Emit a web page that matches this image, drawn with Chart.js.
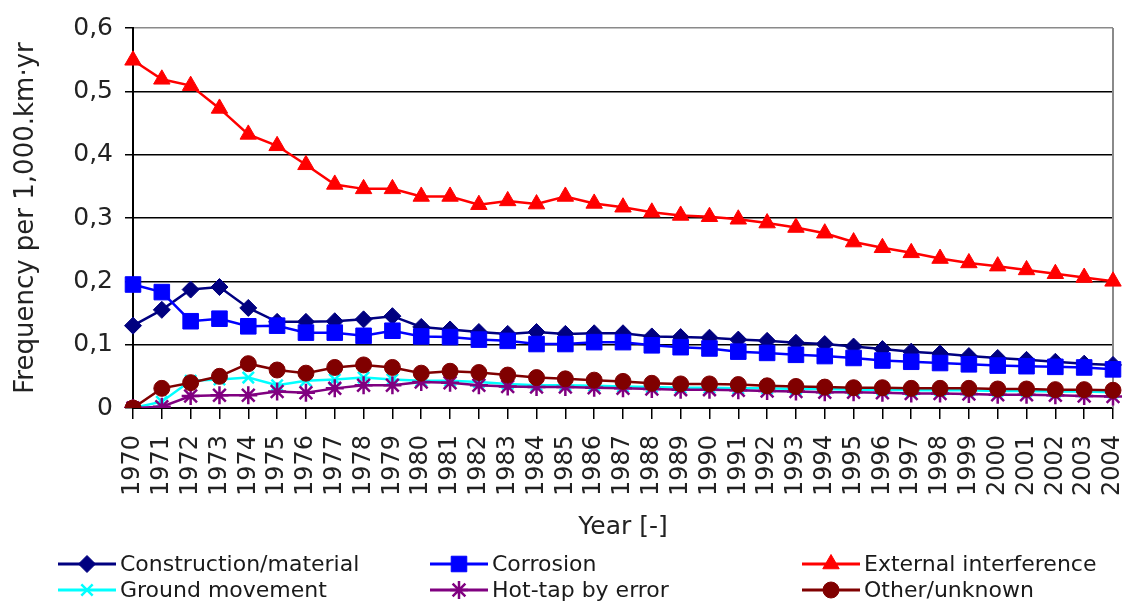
<!DOCTYPE html>
<html lang="en">
<head>
  <meta charset="UTF-8">
  <title>Incident frequency by cause</title>
  <script src="https://cdn.jsdelivr.net/npm/chart.js"></script>
  <style>
    body { margin: 0; background: #fff; }
    #wrap { width: 1132px; height: 604px; }
  </style>
</head>
<body>

<div id="wrap"><canvas id="freqChart" width="1132" height="604"></canvas></div>

<script>
  // categories
  const years = ['1970','1971','1972','1973','1974','1975','1976','1977','1978','1979',
                 '1980','1981','1982','1983','1984','1985','1986','1987','1988','1989',
                 '1990','1991','1992','1993','1994','1995','1996','1997','1998','1999',
                 '2000','2001','2002','2003','2004'];

  // values (frequency per 1,000 km·yr)
  const constructionMaterial = [0.130, 0.155, 0.187, 0.191, 0.158, 0.136, 0.136, 0.137, 0.140, 0.145,
                                0.128, 0.124, 0.120, 0.117, 0.120, 0.117, 0.118, 0.118, 0.113, 0.112,
                                0.111, 0.108, 0.106, 0.103, 0.101, 0.097, 0.093, 0.089, 0.086, 0.082,
                                0.079, 0.076, 0.073, 0.070, 0.068];
  const corrosion = [0.195, 0.183, 0.137, 0.141, 0.129, 0.130, 0.119, 0.119, 0.114, 0.122,
                     0.113, 0.112, 0.108, 0.106, 0.101, 0.101, 0.104, 0.104, 0.099, 0.096,
                     0.094, 0.089, 0.087, 0.084, 0.082, 0.079, 0.075, 0.073, 0.071, 0.069,
                     0.067, 0.066, 0.065, 0.064, 0.061];
  const externalInterference = [0.549, 0.519, 0.509, 0.473, 0.432, 0.414, 0.384, 0.353, 0.346, 0.346,
                                0.334, 0.334, 0.321, 0.327, 0.322, 0.334, 0.323, 0.317, 0.309, 0.304,
                                0.302, 0.298, 0.292, 0.285, 0.276, 0.262, 0.253, 0.245, 0.236, 0.229,
                                0.224, 0.218, 0.212, 0.206, 0.200];
  const groundMovement = [0, 0.010, 0.043, 0.045, 0.048, 0.036, 0.043, 0.045, 0.048, 0.045,
                          0.043, 0.043, 0.041, 0.038, 0.036, 0.036, 0.035, 0.034, 0.033, 0.032,
                          0.032, 0.031, 0.031, 0.030, 0.030, 0.029, 0.029, 0.028, 0.028, 0.028,
                          0.027, 0.027, 0.026, 0.026, 0.025];
  const hotTapByError = [0, 0.002, 0.019, 0.020, 0.020, 0.026, 0.024, 0.031, 0.036, 0.036,
                         0.041, 0.040, 0.036, 0.034, 0.033, 0.033, 0.032, 0.031, 0.030, 0.029,
                         0.029, 0.028, 0.027, 0.026, 0.025, 0.025, 0.024, 0.023, 0.023, 0.022,
                         0.021, 0.021, 0.020, 0.019, 0.018];
  const otherUnknown = [0, 0.031, 0.040, 0.050, 0.070, 0.060, 0.055, 0.064, 0.068, 0.064,
                        0.055, 0.058, 0.056, 0.052, 0.048, 0.046, 0.044, 0.042, 0.039, 0.038,
                        0.038, 0.037, 0.035, 0.034, 0.033, 0.032, 0.032, 0.031, 0.031, 0.031,
                        0.030, 0.030, 0.029, 0.029, 0.028];

  const FONT = 'DejaVu Sans';

  // one line series, Excel-like marker
  function series(label, data, color, style, radius, order) {
    return {
      label: label,
      data: data,
      borderColor: color,
      backgroundColor: color,
      borderWidth: 2.5,
      pointStyle: style,
      pointRadius: radius,
      pointHoverRadius: radius,
      pointBackgroundColor: color,
      pointBorderColor: color,
      pointBorderWidth: (style === 'crossRot' || style === 'star') ? 2.5 : 1,
      tension: 0,
      fill: false,
      order: order   // later series drawn on top, like the original
    };
  }

  // gray frame on the right side of the plot area
  const plotFrame = {
    id: 'plotFrame',
    beforeDatasetsDraw(chart) {
      const a = chart.chartArea, ctx = chart.ctx;
      ctx.save();
      ctx.strokeStyle = '#8a8a8a';
      ctx.lineWidth = 2;
      ctx.beginPath();
      ctx.moveTo(a.right, a.top);
      ctx.lineTo(a.right, a.bottom);
      ctx.stroke();
      ctx.restore();
    }
  };

  // legend in three fixed columns, two rows
  const columnLegend = {
    id: 'columnLegend',
    afterDraw(chart, args, opts) {
      const ctx = chart.ctx;
      chart.data.datasets.forEach((ds, i) => {
        const tx = opts.cols[i % 3];
        const y = opts.rows[Math.floor(i / 3)];
        ctx.save();
        ctx.strokeStyle = ds.borderColor;
        ctx.lineWidth = 3;
        ctx.beginPath();
        ctx.moveTo(tx - 62, y);
        ctx.lineTo(tx - 4, y);
        ctx.stroke();
        ctx.fillStyle = ds.pointBackgroundColor;
        ctx.strokeStyle = ds.pointBorderColor;
        ctx.lineWidth = ds.pointBorderWidth;
        Chart.helpers.drawPoint(ctx, {
          pointStyle: ds.pointStyle, radius: ds.pointRadius,
          borderWidth: ds.pointBorderWidth, rotation: 0
        }, tx - 33, y);
        ctx.fillStyle = '#1a1a1a';
        ctx.font = '22px "' + FONT + '"';
        ctx.textAlign = 'left';
        ctx.textBaseline = 'middle';
        ctx.fillText(ds.label, tx, y + 1);
        ctx.restore();
      });
    }
  };

  const ctx = document.getElementById('freqChart').getContext('2d');
  new Chart(ctx, {
    type: 'line',
    data: {
      labels: years,
      datasets: [
        series('Construction/material', constructionMaterial, '#000080', 'rectRot', 8.5, 6),
        series('Corrosion', corrosion, '#0000ff', 'rect', 11, 5),
        series('External interference', externalInterference, '#ff0000', 'triangle', 9.5, 4),
        series('Ground movement', groundMovement, '#00ffff', 'crossRot', 8, 3),
        series('Hot-tap by error', hotTapByError, '#800080', 'star', 9, 2),
        series('Other/unknown', otherUnknown, '#800000', 'circle', 8, 1)
      ]
    },
    options: {
      responsive: false,
      animation: false,
      devicePixelRatio: 1,
      layout: { padding: { left: 0, right: 19, top: 28, bottom: 62 } },
      plugins: {
        legend: { display: false },
        tooltip: { enabled: false },
        columnLegend: { cols: [120, 492, 864], rows: [564, 590] }
      },
      scales: {
        x: {
          type: 'category',
          offset: false,
          grid: { drawOnChartArea: false, drawTicks: true, tickLength: 11, color: '#000', lineWidth: 1.5 },
          border: { color: '#000', width: 2 },
          ticks: {
            autoSkip: false, maxRotation: 90, minRotation: 90, padding: 16,
            color: '#222', font: { family: FONT, size: 24 }
          },
          title: {
            display: true, text: 'Year [-]', color: '#222',
            font: { family: FONT, size: 25 }, padding: { top: 0, bottom: 0 }
          },
          afterFit(scale) {
            scale.height = 134;
            scale.paddingLeft = 0;
            scale.paddingRight = 0;
          }
        },
        y: {
          min: 0,
          max: 0.6,
          grid: {
            color: c => (c.tick && c.tick.value >= 0.599) ? '#8a8a8a' : '#000',
            tickColor: '#000',
            lineWidth: 1.5,
            tickLength: 8
          },
          border: { color: '#000', width: 2 },
          ticks: {
            stepSize: 0.1, padding: 12, color: '#222',
            font: { family: FONT, size: 25 },
            callback: v => v === 0 ? '0' : v.toFixed(1).replace('.', ',')
          },
          title: {
            display: true, text: 'Frequency per 1,000.km·yr', color: '#222',
            font: { family: FONT, size: 26 }, padding: { top: 11, bottom: 0 }
          },
          afterFit(scale) {
            scale.width = 133;
            scale.paddingTop = 0;
            scale.paddingBottom = 0;
          }
        }
      }
    },
    plugins: [plotFrame, columnLegend]
  });
</script>

</body>
</html>
